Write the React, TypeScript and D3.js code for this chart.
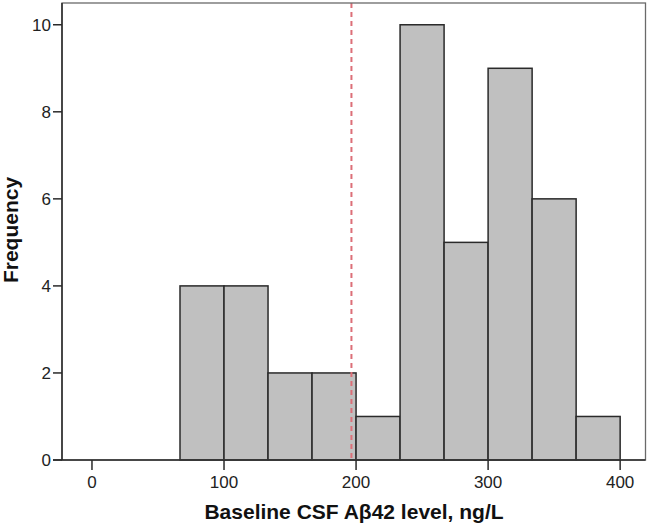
import React from "react";
import * as d3 from "d3";

const binStarts = [66.667, 100, 133.333, 166.667, 200, 233.333, 266.667, 300, 333.333, 366.667];
const binWidth = 33.333;
const counts = [4, 4, 2, 2, 1, 10, 5, 9, 6, 1];
const xTicks = [0, 100, 200, 300, 400];
const yTicks = [0, 2, 4, 6, 8, 10];
const cutoff = 196.5;
const xTitle = "Baseline CSF Aβ42 level, ng/L";
const yTitle = "Frequency";

export default function App() {
  const W = 650, H = 527;
  const left = 62, right = 645.5, top = 3, bottom = 460;
  const x = d3.scaleLinear().domain([-22.7, 419.2]).range([left, right]);
  const y = d3.scaleLinear().domain([0, 10.5]).range([bottom, top]);
  const font = "'Liberation Sans', Arial, sans-serif";
  return (
    <svg width={W} height={H} style={{ position: "absolute", left: 0, top: 0, background: "#fff" }}>
      {/* bars */}
      {counts.map((c, i) => (
        <rect key={i}
          x={x(binStarts[i])} y={y(c)}
          width={x(binStarts[i] + binWidth) - x(binStarts[i])}
          height={y(0) - y(c)}
          fill="#c0c0c0" stroke="#2a2a2a" strokeWidth={1.5} />
      ))}
      {/* cutoff line */}
      <line x1={x(cutoff)} x2={x(cutoff)} y1={top} y2={bottom}
        stroke="#dc6f78" strokeWidth={2} strokeDasharray="5,4" />
      {/* frame */}
      <rect x={left} y={top} width={right - left} height={bottom - top}
        fill="none" stroke="#6a6a6a" strokeWidth={1.3} />
      <line x1={left - 9} x2={right} y1={bottom} y2={bottom} stroke="#2a2a2a" strokeWidth={1.5} />
      <line x1={left} x2={left} y1={top} y2={bottom} stroke="#2a2a2a" strokeWidth={1.5} />
      {/* y ticks */}
      {yTicks.map(t => (
        <g key={t}>
          <line x1={left - 9} x2={left} y1={y(t)} y2={y(t)} stroke="#2a2a2a" strokeWidth={1.5} />
          <text x={left - 11} y={y(t)} dy="0.36em" textAnchor="end" fontFamily={font} fontSize={17} fill="#222">{t}</text>
        </g>
      ))}
      {/* x ticks */}
      {xTicks.map(t => (
        <g key={t}>
          <line x1={x(t)} x2={x(t)} y1={bottom} y2={bottom + 10} stroke="#2a2a2a" strokeWidth={1.5} />
          <text x={x(t)} y={bottom + 28} textAnchor="middle" fontFamily={font} fontSize={17} fill="#222">{t}</text>
        </g>
      ))}
      <text x={354} y={519} textAnchor="middle" fontFamily={font} fontSize={21} fontWeight="bold" fill="#111">{xTitle}</text>
      <text transform={`translate(18,230) rotate(-90)`} textAnchor="middle" fontFamily={font} fontSize={21} fontWeight="bold" fill="#111">{yTitle}</text>
    </svg>
  );
}
